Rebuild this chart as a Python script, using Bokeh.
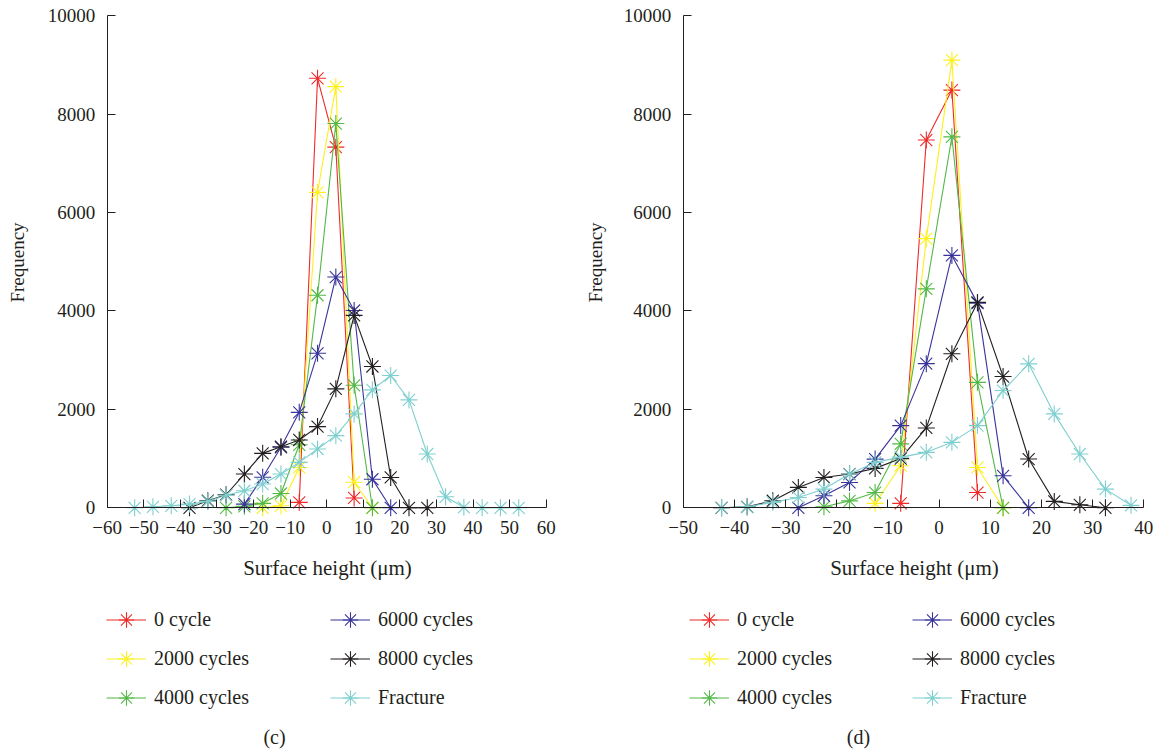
import math
from bokeh.plotting import figure
from bokeh.layouts import row
from bokeh.models import Range1d, FixedTicker, Legend, LegendItem, Label
from bokeh.embed import file_html
from bokeh.resources import INLINE

# ---------------- data ----------------
labels = ["0 cycle", "2000 cycles", "4000 cycles", "6000 cycles", "8000 cycles", "Fracture"]
colors = ["#ee2a2a", "#fdf01c", "#52b846", "#38349a", "#231f20", "#7fcfcf"]

# panel (c)
c_red_x = [-7.5, -2.5, 2.5, 7.5]
c_red_y = [110, 8730, 7330, 200]
c_yellow_x = [-17.5, -12.5, -7.5, -2.5, 2.5, 7.5, 12.5]
c_yellow_y = [0, 40, 820, 6410, 8560, 520, 0]
c_green_x = [-27.5, -22.5, -17.5, -12.5, -7.5, -2.5, 2.5, 7.5, 12.5]
c_green_y = [0, 30, 90, 290, 1280, 4320, 7810, 2490, 0]
c_blue_x = [-22.5, -17.5, -12.5, -7.5, -2.5, 2.5, 7.5, 12.5, 17.5]
c_blue_y = [75, 620, 1230, 1940, 3140, 4690, 4010, 580, 0]
c_black_x = [-37.5, -32.5, -27.5, -22.5, -17.5, -12.5, -7.5, -2.5, 2.5, 7.5, 12.5, 17.5, 22.5, 27.5]
c_black_y = [0, 143, 265, 686, 1106, 1242, 1378, 1650, 2417, 3910, 2872, 617, 0, 0]
c_cyan_x = [-52.5, -47.5, -42.5, -37.5, -32.5, -27.5, -22.5, -17.5, -12.5, -7.5, -2.5,
            2.5, 7.5, 12.5, 17.5, 22.5, 27.5, 32.5, 37.5, 42.5, 47.5, 52.5]
c_cyan_y = [0, 20, 40, 75, 130, 255, 346, 482, 686, 923, 1195,
            1466, 1908, 2397, 2688, 2193, 1093, 224, 10, 0, 0, 0]

# panel (d)
d_red_x = [-7.5, -2.5, 2.5, 7.5]
d_red_y = [90, 7475, 8490, 310]
d_yellow_x = [-12.5, -7.5, -2.5, 2.5, 7.5, 12.5]
d_yellow_y = [90, 855, 5470, 9100, 820, 0]
d_green_x = [-22.5, -17.5, -12.5, -7.5, -2.5, 2.5, 7.5, 12.5]
d_green_y = [20, 140, 310, 1300, 4450, 7540, 2550, 0]
d_blue_x = [-27.5, -22.5, -17.5, -12.5, -7.5, -2.5, 2.5, 7.5, 12.5, 17.5]
d_blue_y = [0, 245, 515, 990, 1670, 2930, 5130, 4160, 650, 0]
d_black_x = [-42.5, -37.5, -32.5, -27.5, -22.5, -17.5, -12.5, -7.5, -2.5, 2.5, 7.5,
             12.5, 17.5, 22.5, 27.5, 32.5]
d_black_y = [0, 20, 143, 414, 617, 686, 801, 1000, 1623, 3130, 4175,
             2668, 991, 130, 61, 0]
d_cyan_x = [-42.5, -37.5, -32.5, -27.5, -22.5, -17.5, -12.5, -7.5, -2.5, 2.5, 7.5,
            12.5, 17.5, 22.5, 27.5, 32.5, 37.5]
d_cyan_y = [0, 20, 110, 210, 380, 686, 923, 1030, 1127, 1330, 1670,
            2383, 2926, 1908, 1093, 380, 50]

c_ticks = [-60, -50, -40, -30, -20, -10, 0, 10, 20, 30, 40, 50, 60]
d_ticks = [-50, -40, -30, -20, -10, 0, 10, 20, 30, 40]
y_ticks = [0, 2000, 4000, 6000, 8000, 10000]
x_title = "Surface height (\u03bcm)"
y_title = "Frequency"

FONT = "Liberation Serif"
INK = "#231f20"
H = 752
Y_RANGE = (-4974, 10311)   # frame spans the whole canvas; y=0..10000 sits at px 507..16


def tick_label(v):
    return ("\u2212" + str(-v)) if v < 0 else str(v)


def make_fig(series, x_range, xb, xticks, caption, width, leg_dx, xt_x, cap_x):
    p = figure(width=width, height=H, x_range=Range1d(*x_range), y_range=Range1d(*Y_RANGE),
               output_backend="svg", toolbar_location=None,
               min_border_left=0, min_border_right=0, min_border_top=0, min_border_bottom=0)
    p.grid.visible = False
    p.outline_line_color = None
    p.background_fill_color = "white"
    p.border_fill_color = "white"

    for ax in (p.xaxis[0], p.yaxis[0]):
        ax.axis_line_color = INK
        ax.major_tick_line_color = INK
        ax.minor_tick_line_color = None
        ax.major_tick_in = 8
        ax.major_tick_out = 0
        ax.major_label_text_font = FONT
        ax.major_label_text_font_size = "19px"
        ax.major_label_text_color = INK

    xa = p.xaxis[0]
    xa.fixed_location = 0
    xa.ticker = FixedTicker(ticks=xticks)
    xa.major_label_overrides = {v: tick_label(v) for v in xticks}
    xa.major_label_standoff = 13
    xa.bounds = xb

    ya = p.yaxis[0]
    ya.fixed_location = xb[0]
    ya.ticker = FixedTicker(ticks=y_ticks)
    ya.major_label_overrides = {v: str(v) for v in y_ticks}
    ya.major_label_standoff = 12
    ya.bounds = (0, 10000)

    items = []
    for (xs, ys), col, lab in zip(series, colors, labels):
        lr = p.line(xs, ys, line_color=col, line_width=1.1)
        sr = p.scatter(xs, ys, marker="asterisk", size=17, line_color=col, line_width=1.1)
        items.append(LegendItem(label=lab, renderers=[lr, sr]))

    for k, dx in enumerate(leg_dx):
        leg = Legend(items=items[3 * k:3 * k + 3], location=(dx, 35.5), orientation="vertical",
                     glyph_width=40, glyph_height=39, spacing=0, padding=0, margin=0,
                     label_standoff=8, label_text_font=FONT, label_text_font_size="20px",
                     label_text_color=INK, border_line_color=None, background_fill_alpha=0)
        p.add_layout(leg)

    common = dict(x_units="screen", y_units="screen", text_align="center",
                  text_baseline="middle", text_font=FONT, text_color=INK)
    p.add_layout(Label(x=17, y=H - 262, text=y_title, angle=math.pi / 2,
                       text_font_size="19px", **common))
    p.add_layout(Label(x=xt_x, y=H - 567, text=x_title, text_font_size="21px", **common))
    p.add_layout(Label(x=cap_x, y=H - 736, text=caption, text_font_size="20px", **common))
    return p


c_series = [(c_red_x, c_red_y), (c_yellow_x, c_yellow_y), (c_green_x, c_green_y),
            (c_blue_x, c_blue_y), (c_black_x, c_black_y), (c_cyan_x, c_cyan_y)]
d_series = [(d_red_x, d_red_y), (d_yellow_x, d_yellow_y), (d_green_x, d_green_y),
            (d_blue_x, d_blue_y), (d_black_x, d_black_y), (d_cyan_x, d_cyan_y)]

p1 = make_fig(c_series, (-89.17, 68.84), (-60, 60), c_ticks, "(c)", 578, [106, 330], 327, 274)
p2 = make_fig(d_series, (-70.457, 43.65), (-50, 40), d_ticks, "(d)", 584, [111, 334], 336, 280)

layout = row(p1, p2)
open("out.html", "w").write(file_html(layout, INLINE))
